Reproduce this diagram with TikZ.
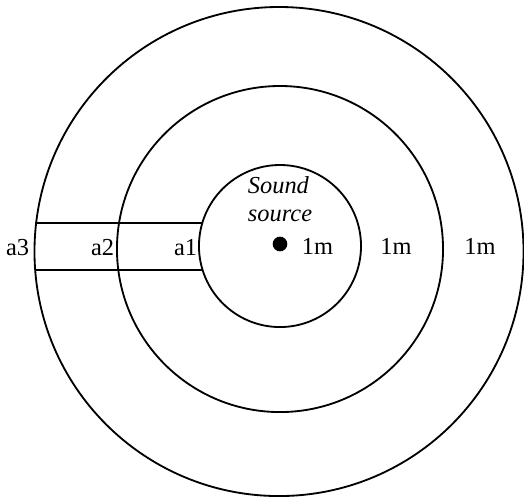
\documentclass[tikz,border=0pt]{standalone}
\usepackage{fontspec}
\setmainfont{Liberation Serif}
\usetikzlibrary{calc, positioning}

\begin{document}
\begin{tikzpicture}[line width=0.9pt, font=\fontsize{12}{13.8}\selectfont]

    % =================================================================
    % 1. KHUNG HÌNH VÀ TÂM CÁC VÒNG TRÒN
    % =================================================================
    \useasboundingbox (-4.838,-4.337) rectangle (4.216,4.251);

    \coordinate (O)  at (0,0);
    \coordinate (O1) at (0,0);
    \coordinate (O2) at (0,-0.052);
    \coordinate (O3) at (-0.017,-0.095);

    % =================================================================
    % 2. BA VÒNG TRÒN BÁN KÍNH 1m, 2m, 3m
    % =================================================================
    \draw (O1) circle (1.4);
    \draw (O2) circle (2.817);
    \draw (O3) circle (4.225);

    % Nguồn âm ở tâm
    \fill (0,0.035) circle (3.6pt);

    % =================================================================
    % 3. DẢI NẰM NGANG BÊN TRÁI
    % =================================================================
    \coordinate (TopL) at (-4.24,0.40);
    \coordinate (TopR) at (-1.342,0.40);
    \coordinate (BotL) at (-4.24,-0.41);
    \coordinate (BotR) at (-1.339,-0.41);

    \draw (TopL) -- (TopR);
    \draw (BotL) -- (BotR);

    % =================================================================
    % 4. NHÃN
    % =================================================================
    \node[anchor=east, inner sep=0] (a3) at (-4.32,-0.02) {a3};
    \node[anchor=east, inner sep=0] (a2) at (-2.851,-0.02) {a2};
    \node[anchor=east, inner sep=0] (a1) at (-1.417,-0.02) {a1};

    \node[inner sep=0] (r1) at (0.648,0) {1m};
    \node[inner sep=0] (r2) at (2.004,0) {1m};
    \node[inner sep=0] (r3) at (3.456,0) {1m};

    \node[anchor=south west, inner sep=0, align=left, font=\fontsize{12}{13.8}\selectfont\itshape]
        (src) at (-0.57,0.40) {Sound\\source};

\end{tikzpicture}
\end{document}
